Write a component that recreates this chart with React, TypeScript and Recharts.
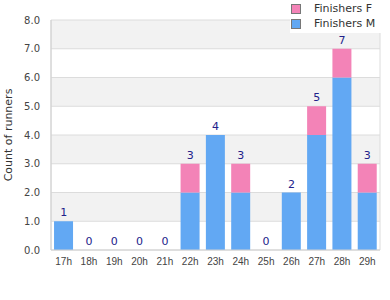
import React from 'react';
import { ComposedChart, Bar, Line, XAxis, YAxis, CartesianGrid, LabelList, Label } from 'recharts';

const categories = ['17h', '18h', '19h', '20h', '21h', '22h', '23h', '24h', '25h', '26h', '27h', '28h', '29h'];
const finishersM = [1, 0, 0, 0, 0, 2, 4, 2, 0, 2, 4, 6, 2];
const finishersF = [0, 0, 0, 0, 0, 1, 0, 1, 0, 0, 1, 1, 1];
const yTicks = [0, 1, 2, 3, 4, 5, 6, 7, 8];

const data = categories.map((c, i) => ({
  name: c,
  M: finishersM[i],
  F: finishersF[i],
  total: finishersM[i] + finishersF[i],
}));

const PINK = '#f383b7';
const BLUE = '#62a8f3';

const LegendBox = () => (
  <div
    style={{
      position: 'absolute',
      left: 290,
      top: 0,
      width: 100,
      height: 33,
      background: '#fff',
      fontFamily: 'DejaVu Sans',
      fontSize: 11,
      color: '#333',
      zIndex: 2,
    }}
  >
    {[
      { label: 'Finishers F', color: PINK },
      { label: 'Finishers M', color: BLUE },
    ].map((it, i) => (
      <div key={i} style={{ position: 'absolute', left: 1, top: 3 + i * 15, display: 'flex', alignItems: 'center' }}>
        <div style={{ width: 8, height: 8, background: it.color, border: '1px solid #777' }} />
        <span style={{ marginLeft: 13, lineHeight: '11px' }}>{it.label}</span>
      </div>
    ))}
  </div>
);

export default function App() {
  return (
    <div style={{ position: 'absolute', left: 0, top: 0, width: 390, height: 300, background: '#fff' }}>
      <ComposedChart
        width={390}
        height={300}
        data={data}
        margin={{ top: 20, right: 10, bottom: 20, left: 0 }}
        barCategoryGap="12%"
      >
        <CartesianGrid
          vertical={true}
          verticalCoordinatesGenerator={() => [51, 380]}
          stroke="#dcdcdc"
          horizontalFill={['#f2f2f2', '#ffffff']}
          syncWithTicks
        />
        <XAxis
          dataKey="name"
          height={30}
          tickLine={false}
          axisLine={{ stroke: '#d0d0d0' }}
          tick={{ fontFamily: 'Liberation Sans', fontSize: 10, fill: '#444' }}
          tickMargin={2}
          interval={0}
        />
        <YAxis
          width={51}
          domain={[0, 8]}
          ticks={yTicks}
          tickFormatter={(v: number) => v.toFixed(1)}
          tickLine={false}
          axisLine={{ stroke: '#d0d0d0' }}
          tick={{ fontFamily: 'DejaVu Sans', fontSize: 10, fill: '#444' }}
          tickMargin={5}
        >
          <Label
            content={() => (
              <text
                x={8}
                y={135}
                transform="rotate(-90, 8, 135)"
                textAnchor="middle"
                dominantBaseline="central"
                fontFamily="DejaVu Sans"
                fontSize={11}
                fill="#333"
              >
                Count of runners
              </text>
            )}
          />
        </YAxis>
        <Bar dataKey="M" stackId="a" fill={BLUE} isAnimationActive={false} />
        <Bar dataKey="F" stackId="a" fill={PINK} isAnimationActive={false} />
        <Line
          dataKey="total"
          stroke="none"
          dot={false}
          activeDot={false}
          legendType="none"
          isAnimationActive={false}
        >
          <LabelList
            dataKey="total"
            position="top"
            offset={5}
            style={{ fontFamily: 'DejaVu Sans', fontSize: 11, fill: '#22228b' }}
          />
        </Line>
      </ComposedChart>
      <LegendBox />
    </div>
  );
}
